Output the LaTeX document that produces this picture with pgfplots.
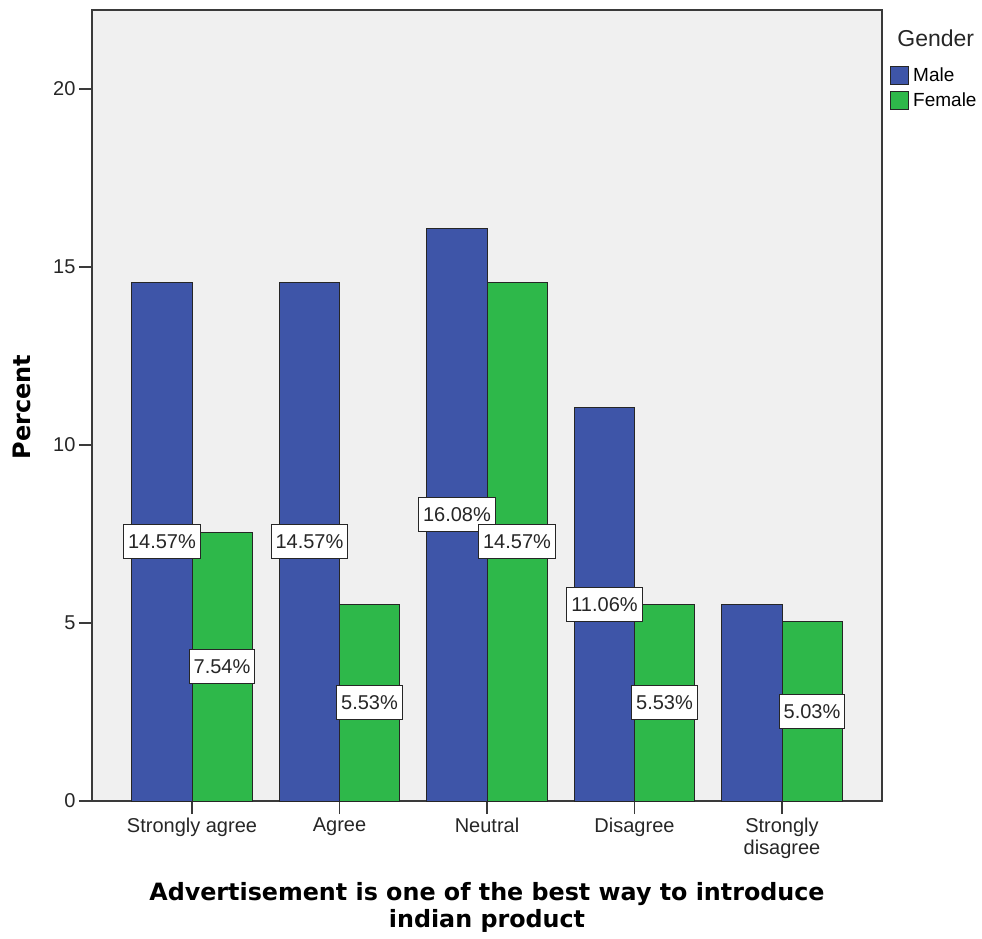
\documentclass[border=0pt]{standalone}
\usepackage{pgfplots}
\pgfplotsset{compat=1.18}
\usepackage{fontspec}
\setmainfont{Liberation Sans}
\newfontfamily\titlefont{DejaVu Sans}

\definecolor{maleblue}{HTML}{3E55A8}
\definecolor{femalegreen}{HTML}{2EB84A}
\definecolor{plotbg}{HTML}{F0F0F0}
\definecolor{frame}{HTML}{3A3A3A}

\begin{document}
\begin{tikzpicture}
\path[use as bounding box] (-92pt,-138pt) rectangle (890pt,801pt);
\begin{axis}[
    width=790pt, height=791pt, scale only axis,
    at={(0,0)}, anchor=south west,
    clip=false,
    xmin=-0.678, xmax=4.678,
    ymin=0, ymax=22.22,
    axis background/.style={fill=plotbg},
    axis line style={frame, line width=1.4pt},
    every tick/.style={frame, line width=1.4pt},
    tick align=outside,
    major tick length=13pt,
    xtick={0,1,2,3,4},
    xticklabels={Strongly agree, Agree, Neutral, Disagree, {Strongly\\disagree}},
    x tick label style={align=center, font=\fontsize{20}{22}\selectfont, text=black!85},
    ytick={0,5,10,15,20},
    y tick label style={font=\fontsize{20}{22}\selectfont, text=black!85},
    /pgf/number format/assume math mode=true,
    xtick pos=bottom, ytick pos=left,
    xlabel={Advertisement is one of the best way to introduce\\indian product},
    xlabel style={at={(axis description cs:0.5,-0.134)}, anchor=center, align=center,
        font=\titlefont\bfseries\fontsize{23.8}{27}\selectfont},
    ylabel={Percent},
    ylabel style={at={(axis description cs:-0.0886,0.498)}, anchor=center, rotate=0,
        font=\titlefont\bfseries\fontsize{24}{26}\selectfont},
    legend image code/.code={\draw[#1, line width=1pt] (0pt,-9pt) rectangle (18pt,9pt);},
    legend style={at={(1.0095,0.93)}, anchor=north west, draw=none, fill=none,
        font=\fontsize{19}{21}\selectfont, row sep=6pt, inner sep=0pt,
        column sep=3pt, nodes={inner sep=1.5pt}},
    legend cell align=left,
]
% Male
\addplot[ybar, bar width=0.407, bar shift=-0.2035, fill=maleblue, draw=black!85, line width=1pt]
    coordinates {(0,14.57) (1,14.57) (2,16.08) (3,11.06) (4,5.53)};
% Female
\addplot[ybar, bar width=0.407, bar shift=0.2035, fill=femalegreen, draw=black!85, line width=1pt]
    coordinates {(0,7.54) (1,5.53) (2,14.57) (3,5.53) (4,5.03)};
\legend{Male, Female}

% value labels at half bar height
\addplot[forget plot, draw=none, mark=none,
    point meta=explicit symbolic,
    nodes near coords={\pgfplotspointmeta\%},
    nodes near coords align=center,
    nodes near coords style={fill=white, draw=black!85, line width=1pt, text=black!85,
        font=\fontsize{20}{22}\selectfont, inner xsep=4.5pt, inner ysep=10pt,
        text height=14pt, text depth=0pt, anchor=center}]
    table[meta=lab] {
x y lab
-0.2035 7.285 14.57
0.2035 3.77 7.54
0.7965 7.285 14.57
1.2035 2.765 5.53
1.7965 8.04 16.08
2.2035 7.285 14.57
2.7965 5.53 11.06
3.2035 2.765 5.53
4.2035 2.515 5.03
};
\node[font=\fontsize{23}{25}\selectfont, text=black!85] at (rel axis cs:1.068,0.9646) {Gender};
\end{axis}
\end{tikzpicture}
\end{document}
